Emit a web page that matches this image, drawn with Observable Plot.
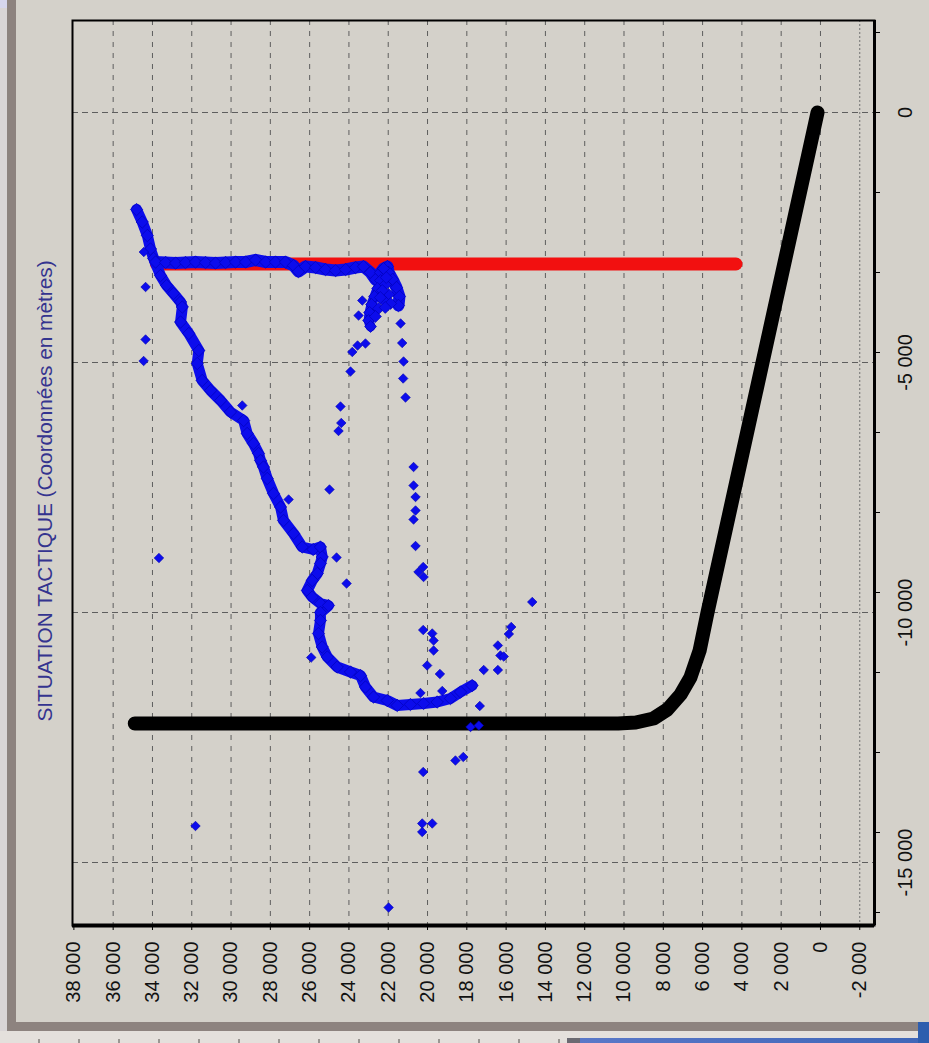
<!DOCTYPE html>
<html>
<head>
<meta charset="utf-8">
<script src="https://cdn.jsdelivr.net/npm/d3@7"></script>
<script src="https://cdn.jsdelivr.net/npm/@observablehq/plot@0.6"></script>
<style>
html, body { margin: 0; padding: 0; width: 929px; height: 1043px; overflow: hidden; background: #d4d1ca; }
#page { position: relative; width: 929px; height: 1043px; background: #d4d1ca; }
.deco { position: absolute; }
#chart { position: absolute; left: 0; top: 0; }
</style>
</head>
<body>
<div id="page">
  <div class="deco" style="left:0;top:0;width:7px;height:1043px;background:#d9d5d6"></div>
  <div class="deco" style="left:0;top:0;width:7px;height:8px;background:#d6d6ee"></div>
  <div class="deco" style="left:7px;top:0;width:9px;height:1031px;background:#8d837f"></div>
  <div class="deco" style="left:7px;top:1022px;width:920px;height:9px;background:#8d837f"></div>
  <div class="deco" style="left:0;top:1031px;width:929px;height:12px;background:#e4e0dc"></div>
  <div class="deco" style="left:0;top:1039px;width:567px;height:4px;background:repeating-linear-gradient(90deg,#e4e0dc 0 38px,#9a9692 38px 40px)"></div>
  <div class="deco" style="left:567px;top:1038px;width:13px;height:5px;background:#6b6a72"></div>
  <div class="deco" style="left:580px;top:1038px;width:349px;height:5px;background:linear-gradient(90deg,#5a78c8,#3f66b8)"></div>
  <div class="deco" style="left:918px;top:1022px;width:11px;height:21px;background:#2e5eae"></div>
  <div id="chart"></div>
</div>
<script>
// ---------- data ----------
const title = "SITUATION TACTIQUE (Coordonnées en mètres)";

const xTickValues = [38000, 36000, 34000, 32000, 30000, 28000, 26000, 24000, 22000, 20000,
  18000, 16000, 14000, 12000, 10000, 8000, 6000, 4000, 2000, 0, -2000];
const xGridDashed = [36000, 34000, 32000, 30000, 28000, 26000, 24000, 22000, 20000,
  18000, 16000, 14000, 12000, 10000, 8000, 6000, 4000, 2000, 0];
const xGridDotted = [-2000];
const yLabelValues = [0, -5000, -10000, -15000];
const yMinorTicks = [1600, 0, -1600, -3200, -4800, -6400, -8000, -9600, -11200, -12800, -14400, -16000];
const xDomain = [38070, -2750];
const yDomain = [-16260, 1840];

// black trajectory
const blackPath = [
  [150, 0], [2950, -5000], [5750, -10000], [6150, -10760], [6620, -11300], [7120, -11640],
  [7790, -11940], [8500, -12120], [9400, -12200], [10300, -12220], [34900, -12220]
];

// red trajectory
const redPath = [[33800, -3030], [4300, -3030]];

// blue: main descending track
const blueTrack = [
  [34810, -1940], [34520, -2190], [34260, -2460], [34100, -2730], [33940, -2920], [33590, -3260],
  [33280, -3460], [32930, -3620], [32570, -3790], [32480, -3890], [32570, -4190], [32150, -4420],
  [31640, -4760], [31720, -5020], [31470, -5360], [31040, -5560], [30530, -5760], [30030, -5990],
  [29360, -6160], [29180, -6420], [28860, -6620], [28600, -6820], [28500, -6960], [28350, -7090],
  [28160, -7320], [27840, -7620], [27480, -7890], [27330, -8160], [26820, -8420], [26380, -8690],
  [25820, -8740], [25450, -8690], [25360, -8890], [25450, -9020], [25610, -9220], [25870, -9360],
  [26120, -9560], [25870, -9690], [25450, -9820], [25040, -9860], [25450, -10000], [25450, -10160],
  [25550, -10420], [25360, -10690], [25100, -10890], [24600, -11090], [23920, -11190], [23410, -11260],
  [23160, -11490], [22750, -11690], [22050, -11760], [21540, -11860], [20870, -11840], [20200, -11820],
  [19510, -11790], [18830, -11720], [18320, -11590], [17730, -11460]
];

// blue: band along the red line, ending in the hook's right arm
const blueBand = [
  [33840, -2990], [33330, -3000], [32820, -3010], [32320, -3000], [31810, -2990], [31300, -3000],
  [30790, -3010], [30280, -3000], [29770, -2990], [29260, -2990], [28750, -2950], [28240, -2990],
  [27740, -2990], [27230, -2990], [26820, -3060], [26570, -3180], [26210, -3080], [25700, -3100],
  [25190, -3140], [24680, -3160], [24170, -3140], [23660, -3100], [23260, -3080], [22900, -3200],
  [22650, -3340], [22390, -3200], [22240, -3120], [22040, -3080], [21980, -3200], [21780, -3340],
  [21580, -3500], [21430, -3680], [21480, -3860]
];

// blue: hook left arm
const blueHookLeft = [
  [22240, -3120], [22390, -3360], [22540, -3520], [22700, -3680], [22850, -3840], [22950, -4000],
  [23000, -4160], [22900, -4280]
];

// blue: hook fill
const blueHookFill = [
  [22140, -3440], [21980, -3640], [22240, -3760], [22490, -3920], [21880, -3820], [22650, -4080],
  [22300, -3560], [22100, -3300], [22400, -3700], [22150, -3900]
];

// blue: scattered points
const blueScatter = [
  [34440, -2790], [34350, -3490], [34350, -4540], [34450, -4970], [29430, -5860], [23320, -3760],
  [23510, -4060], [23160, -4620], [23560, -4660], [23830, -4790], [23920, -5180], [24430, -5880],
  [24390, -6210], [24530, -6370], [21370, -4220], [21290, -4610], [21220, -4980], [21240, -5320],
  [21120, -5700], [20710, -7090], [20710, -7460], [20610, -7690], [20610, -7960], [20710, -8140],
  [20610, -8670], [20460, -9190], [20220, -9090], [20200, -9290], [33670, -8910], [24990, -7540],
  [27070, -7740], [24630, -8900], [24120, -9420], [25920, -10900], [20220, -10350], [19760, -10420],
  [19690, -10560], [19690, -10760], [20020, -11060], [19370, -11230], [19250, -11570], [20360, -11610],
  [17340, -11870], [17140, -11150], [16420, -11150], [16420, -10660], [16290, -10860], [16120, -10880],
  [15860, -10430], [15740, -10290], [14670, -9790], [17810, -12290], [17390, -12260], [18580, -12960],
  [18180, -12890], [20220, -13190], [20270, -14220], [19760, -14220], [20270, -14390], [31810, -14270],
  [21980, -15900]
];

// ---------- rendering ----------
const fmt = d3.formatLocale({decimal: ",", thousands: " ", grouping: [3], currency: ["", ""], minus: "-"}).format(",d");
const diamond = {
  draw(ctx, size) {
    const r = Math.sqrt(size) * 0.62625;
    ctx.moveTo(0, -r); ctx.lineTo(r, 0); ctx.lineTo(0, r); ctx.lineTo(-r, 0); ctx.closePath();
  }
};
const BLUE = "#0c0cec";
const BLUE_EDGE = "#0000b0";
const FONT = "'Liberation Sans', Arial, sans-serif";
const lineStyle = {stroke: BLUE, strokeLinejoin: "round", strokeLinecap: "round"};
const dotStyle = {symbol: diamond, fill: BLUE, stroke: BLUE_EDGE, strokeWidth: 0.6};

const chart = Plot.plot({
  width: 929,
  height: 1043,
  marginLeft: 72,
  marginRight: 55,
  marginTop: 20,
  marginBottom: 118,
  style: {background: "transparent", color: "#000", fontFamily: FONT, overflow: "visible"},
  x: {domain: xDomain, axis: null},
  y: {domain: yDomain, axis: null},
  marks: [
    Plot.ruleX(xGridDashed, {stroke: "#5e5e5e", strokeWidth: 1, strokeDasharray: "5,6"}),
    Plot.ruleX(xGridDotted, {stroke: "#707070", strokeWidth: 1, strokeDasharray: "2,2"}),
    Plot.ruleY(yLabelValues, {stroke: "#5e5e5e", strokeWidth: 1, strokeDasharray: "6,4"}),
    Plot.line(blackPath, {stroke: "#000", strokeWidth: 14, strokeLinecap: "round", strokeLinejoin: "round"}),
    Plot.line(redPath, {stroke: "#f21010", strokeWidth: 13, strokeLinecap: "round"}),
    Plot.line(blueTrack, {...lineStyle, strokeWidth: 11}),
    Plot.line(blueBand, {...lineStyle, strokeWidth: 12}),
    Plot.line(blueHookLeft, {...lineStyle, strokeWidth: 10}),
    Plot.dot(blueTrack, {...dotStyle, r: 5.6}),
    Plot.dot(blueBand, {...dotStyle, r: 5.6}),
    Plot.dot(blueHookLeft, {...dotStyle, r: 5.4}),
    Plot.dot(blueHookFill, {...dotStyle, r: 5.4}),
    Plot.dot(blueScatter, {...dotStyle, r: 4.3}),
    Plot.frame({stroke: "#000", strokeWidth: 2}),
    Plot.ruleY([yDomain[0]], {stroke: "#000", strokeWidth: 4}),
    Plot.ruleX([xDomain[1]], {stroke: "#000", strokeWidth: 3}),
    Plot.axisX(xTickValues, {
      anchor: "bottom", tickSize: 5, tickPadding: 11, tickRotate: -90,
      textAnchor: "end", lineAnchor: "middle", tickFormat: fmt,
      fontSize: 20, stroke: "#000", fill: "#111"
    }),
    Plot.axisY(yMinorTicks, {anchor: "right", tickSize: 5, tickFormat: () => "", stroke: "#000"}),
    Plot.axisY(yLabelValues, {
      anchor: "right", tickSize: 0, tickPadding: 31, tickRotate: -90,
      textAnchor: "middle", lineAnchor: "middle", tickFormat: fmt,
      fontSize: 20, fill: "#111"
    }),
    Plot.text([title], {
      frameAnchor: "left", dx: -27, dy: 18, rotate: -90,
      textAnchor: "middle", lineAnchor: "middle",
      fontSize: 20.8, fill: "#34348f", text: d => d
    })
  ]
});
document.getElementById("chart").appendChild(chart);
</script>
</body>
</html>
